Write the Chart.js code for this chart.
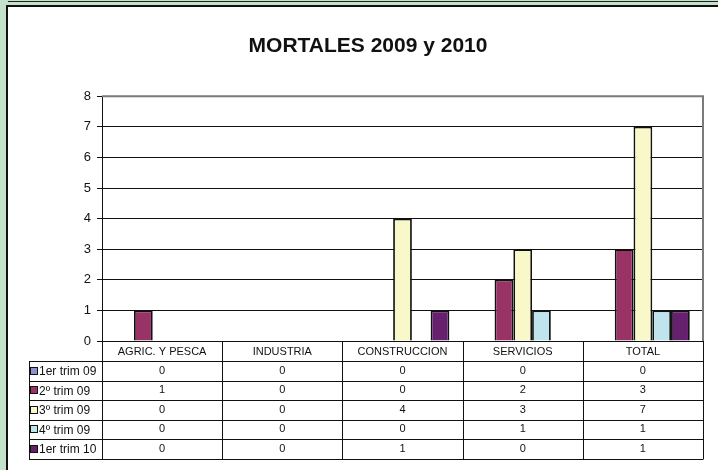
<!DOCTYPE html>
<html>
<head>
<meta charset="utf-8">
<script src="https://cdn.jsdelivr.net/npm/chart.js@4"></script>
<style>
  html, body { margin: 0; padding: 0; }
  body { width: 718px; height: 470px; background: #c3e1cb; position: relative; overflow: hidden; }
  #topline { position: absolute; left: 8px; top: 1px; width: 720px; height: 1px; background: #222; }
  #panel { position: absolute; left: 6px; top: 5px; width: 740px; height: 500px; background: #fff; border-left: 2px solid #111; border-top: 2px solid #111; }
  #wrap { position: absolute; left: 0; top: 0; width: 718px; height: 470px; }
</style>
</head>
<body>
<div id="topline"></div>
<div id="panel"></div>
<div id="wrap"><canvas id="c" width="718" height="470"></canvas></div>
<script>
const titleText = 'MORTALES 2009 y 2010';
const categories = ['AGRIC. Y PESCA', 'INDUSTRIA', 'CONSTRUCCION', 'SERVICIOS', 'TOTAL'];
const seriesNames = ['1er trim 09', '2º trim 09', '3º trim 09', '4º trim 09', '1er trim 10'];
const trim1_09 = [0, 0, 0, 0, 0];
const trim2_09 = [1, 0, 0, 2, 3];
const trim3_09 = [0, 0, 4, 3, 7];
const trim4_09 = [0, 0, 0, 1, 1];
const trim1_10 = [0, 0, 1, 0, 1];
const yTicks = [0, 1, 2, 3, 4, 5, 6, 7, 8];
const seriesColors = ['#9090c8', '#993366', '#f8f8c8', '#c0e4ee', '#66206e'];

const seriesValues = [trim1_09, trim2_09, trim3_09, trim4_09, trim1_10];

const tablePlugin = {
  id: 'dataTable',
  afterDraw(chart) {
    const ctx = chart.ctx, a = chart.chartArea;
    const n = categories.length;
    const colW = (a.right - a.left) / n;
    const top = a.bottom, headH = 20, rowH = 19.5;
    const legendLeft = 29;
    const rows = seriesNames.length;
    const bottom = top + headH + rowH * rows;
    const px = v => Math.round(v) + 0.5;
    ctx.save();
    ctx.strokeStyle = '#7a7a7a';
    ctx.lineWidth = 2;
    ctx.beginPath();
    ctx.moveTo(a.left, a.top); ctx.lineTo(a.right, a.top); ctx.lineTo(a.right, a.bottom);
    ctx.stroke();

    ctx.strokeStyle = '#111';
    ctx.lineWidth = 1;
    ctx.beginPath();
    for (let r = 0; r <= rows; r++) {
      const y = px(top + headH + r * rowH);
      ctx.moveTo(legendLeft, y); ctx.lineTo(a.right, y);
    }
    for (let i = 0; i <= n; i++) {
      const x = px(a.left + i * colW);
      ctx.moveTo(x, top); ctx.lineTo(x, px(bottom));
    }
    ctx.moveTo(px(legendLeft), px(top + headH)); ctx.lineTo(px(legendLeft), px(bottom));
    ctx.stroke();

    ctx.fillStyle = '#111';
    ctx.textAlign = 'center';
    ctx.textBaseline = 'middle';
    ctx.font = '11px "Liberation Sans", Arial, sans-serif';
    categories.forEach((c, i) => {
      ctx.fillText(c, a.left + (i + 0.5) * colW, top + headH / 2 + 1);
    });
    seriesValues.forEach((vals, r) => {
      const yc = top + headH + (r + 0.5) * rowH;
      vals.forEach((v, i) => {
        ctx.fillText(String(v), a.left + (i + 0.5) * colW, yc);
      });
    });
    ctx.textAlign = 'left';
    ctx.font = '12px "Liberation Sans", Arial, sans-serif';
    seriesNames.forEach((name, r) => {
      const yc = top + headH + (r + 0.5) * rowH;
      ctx.fillStyle = seriesColors[r];
      ctx.fillRect(31, Math.round(yc) - 3, 6, 6);
      ctx.strokeStyle = '#111';
      ctx.strokeRect(30.5, Math.round(yc) - 3.5, 7, 7);
      ctx.fillStyle = '#111';
      ctx.fillText(name, 39, yc + 1);
    });
    ctx.restore();
  }
};

new Chart(document.getElementById('c'), {
  type: 'bar',
  data: {
    labels: categories,
    datasets: seriesNames.map((name, i) => ({
      label: name,
      data: seriesValues[i].map(v => (v === 0 ? null : v)),
      backgroundColor: seriesColors[i],
      borderColor: '#111',
      borderWidth: 1.8,
      borderSkipped: 'bottom',
      categoryPercentage: 0.78,
      barPercentage: 1.0
    }))
  },
  options: {
    responsive: false,
    animation: false,
    devicePixelRatio: 1,
    layout: { padding: { left: 33, right: 15, top: 10, bottom: 129 } },
    plugins: {
      legend: { display: false },
      tooltip: { enabled: false },
      title: {
        display: true,
        text: titleText,
        color: '#111',
        font: { family: '"Liberation Sans", Arial, sans-serif', size: 21, weight: 'bold' },
        padding: { top: 24, bottom: 37 }
      }
    },
    scales: {
      x: {
        display: false,
        offset: true,
        grid: { display: false }
      },
      y: {
        min: 0,
        max: 8,
        afterBuildTicks(scale) { scale.ticks = yTicks.map(v => ({ value: v })); },
        afterFit(scale) { scale.width = 69; },
        ticks: {
          color: '#111',
          padding: 6,
          font: { family: '"Liberation Sans", Arial, sans-serif', size: 13 }
        },
        grid: { color: '#111', lineWidth: 1, tickLength: 5, drawTicks: true },
        border: { display: true, color: '#111', width: 1 }
      }
    }
  },
  plugins: [tablePlugin]
});
</script>
</body>
</html>
